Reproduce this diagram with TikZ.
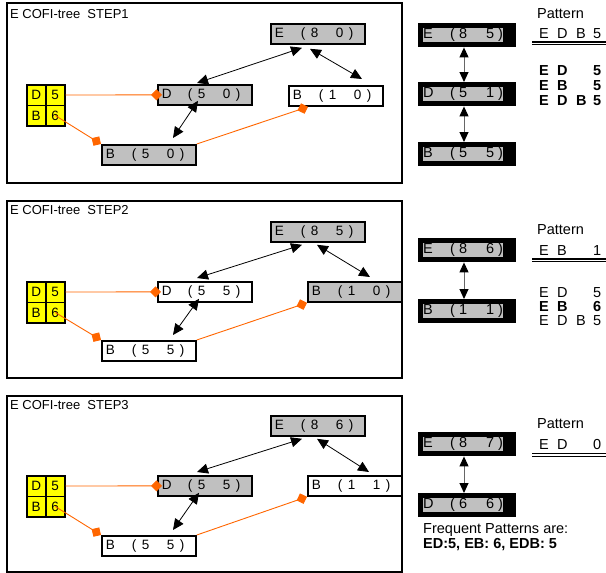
\documentclass[tikz,border=0pt]{standalone}
\usepackage{fontspec}
\setmainfont{Liberation Sans}
\usetikzlibrary{arrows.meta}
\definecolor{boxgray}{RGB}{192,192,192}
\definecolor{cyell}{RGB}{255,255,0}
\definecolor{corange}{RGB}{255,102,0}

\newcommand{\ltxt}[3]{\makebox[94pt][l]{\hspace*{4pt}\makebox[26pt][l]{#1}\makebox[10pt][l]{(}\makebox[25pt][l]{#2}\makebox[13pt][l]{#3})}}
\newcommand{\rtxt}[3]{{\setlength\fboxsep{0pt}\colorbox{boxgray}{\parbox[c][14pt][c]{80pt}{\makebox[27pt][l]{#1}\makebox[9pt][l]{(}\makebox[27pt][l]{#2}\makebox[12pt][l]{#3})}}}\hspace*{8pt}}
\newcommand{\prow}[4]{\makebox[18pt][l]{#1}\makebox[19pt][l]{#2}\makebox[17pt][l]{#3}#4}

\tikzset{
  frame/.style={draw=black, line width=2pt},
  lnode/.style={draw=black, line width=1.8pt, inner sep=0pt, minimum height=20pt, anchor=north west, font=\fontsize{13.5}{15}\selectfont},
  gnode/.style={lnode, fill=boxgray},
  wnode/.style={lnode, fill=white},
  rnode/.style={fill=black, inner xsep=5pt, inner ysep=5pt, anchor=north west, font=\fontsize{14.5}{16}\selectfont},
  cell/.style={draw=black, line width=1.5pt, fill=cyell, minimum width=19pt, minimum height=20.5pt, inner sep=0pt, anchor=north west, font=\fontsize{13.5}{15}\selectfont},
  biarrow/.style={{Triangle[length=11pt,width=10pt]}-{Triangle[length=11pt,width=10pt]}, line width=0.8pt, black},
  rarrow/.style={{Triangle[length=10pt,width=9pt,color=black]}-{Triangle[length=10pt,width=9pt,color=black]}, line width=1pt, draw=black!60},
  olink/.style={draw=corange, line width=0.9pt, -{Diamond[length=11pt,width=11pt,color=corange]}},
  ttl/.style={anchor=base west, font=\fontsize{13}{15}\selectfont, inner sep=0pt},
  ptxt/.style={anchor=base west, font=\fontsize{14.5}{17}\selectfont, inner sep=0pt},
  dline/.style={draw=black, line width=1.3pt},
}

\begin{document}
\begin{tikzpicture}[x=1pt,y=-1pt]
\useasboundingbox[fill=white] (0,0) rectangle (606,573);

%================ PANEL 1 ================
\draw[frame] (7,3) rectangle (402,183);
\node[ttl] (t1) at (10,18) {E COFI-tree\ \ STEP1};
\node[gnode] (E1) at (270,23) {\ltxt{E}{8}{0}};
\node[gnode] (D1) at (157,84) {\ltxt{D}{5}{0}};
\node[wnode] (Br1) at (288,85) {\ltxt{B}{1}{0}};
\node[gnode] (Bl1) at (101,144) {\ltxt{B}{5}{0}};
\node[cell] (c1d) at (26,84) {D};
\node[cell] (c1dv) at (45,84) {5};
\node[cell] (c1b) at (26,104.5) {B};
\node[cell] (c1bv) at (45,104.5) {6};
\draw[biarrow] ([shift={(32,3)}]E1.south west) -- ([shift={(40,-1)}]D1.north west);
\draw[biarrow] ([shift={(40,4)}]E1.south west) -- ([shift={(74,-6)}]Br1.north west);
\draw[biarrow] ([shift={(41,-5)}]D1.south west) -- ([shift={(72,-6)}]Bl1.north west);
\draw[olink] (c1dv.east) -- ([xshift=5pt]D1.west);
\draw[olink] (c1bv.center) -- (Bl1.north west);
\draw[olink] (Bl1.north east) -- ([xshift=20pt]Br1.south west);

\node[rnode] (rE1) at (418,23) {\rtxt{E}{8}{5}};
\node[rnode] (rD1) at (418,82) {\rtxt{D}{5}{1}};
\node[rnode] (rB1) at (418,142) {\rtxt{B}{5}{5}};
\draw[rarrow] ([xshift=46pt]rE1.south west) -- ([xshift=46pt]rD1.north west);
\draw[rarrow] ([xshift=46pt]rD1.south west) -- ([xshift=46pt]rB1.north west);

\node[ptxt] (pa1) at (537,18) {Pattern};
\node[ptxt] (pr1) at (539,38) {\prow{E}{D}{B}{5}};
\draw[dline] (532,42) -- (606,42);
\draw[dline] (532,44.8) -- (606,44.8);
\node[ptxt, font=\fontsize{14.5}{17}\selectfont\bfseries] (pb1a) at (539,75) {\prow{E}{D}{}{5}};
\node[ptxt, font=\fontsize{14.5}{17}\selectfont\bfseries] (pb1b) at (539,90) {\prow{E}{B}{}{5}};
\node[ptxt, font=\fontsize{14.5}{17}\selectfont\bfseries] (pb1c) at (539,105) {\prow{E}{D}{B}{5}};

%================ PANEL 2 ================
\draw[frame] (7,201) rectangle (402,378);
\node[ttl] (t2) at (10,214) {E COFI-tree\ \ STEP2};
\node[gnode] (E2) at (270,221) {\ltxt{E}{8}{5}};
\node[wnode] (D2) at (157,281) {\ltxt{D}{5}{5}};
\node[gnode] (Br2) at (307,281) {\ltxt{B}{1}{0}};
\node[wnode] (Bl2) at (101,340) {\ltxt{B}{5}{5}};
\node[cell] (c2d) at (26,281) {D};
\node[cell] (c2dv) at (45,281) {5};
\node[cell] (c2b) at (26,301.5) {B};
\node[cell] (c2bv) at (45,301.5) {6};
\draw[biarrow] ([shift={(32,2)}]E2.south west) -- ([shift={(40,-3)}]D2.north west);
\draw[biarrow] ([shift={(47,2)}]E2.south west) -- ([shift={(63,-4)}]Br2.north west);
\draw[biarrow] ([shift={(42,-4)}]D2.south west) -- ([shift={(72,-5)}]Bl2.north west);
\draw[olink] (c2dv.east) -- ([xshift=4pt]D2.west);
\draw[olink] (c2bv.center) -- (Bl2.north west);
\draw[olink] (Bl2.north east) -- (Br2.south west);

\node[rnode] (rE2) at (418,238) {\rtxt{E}{8}{6}};
\node[rnode] (rB2) at (418,299) {\rtxt{B}{1}{1}};
\draw[rarrow] ([xshift=46pt]rE2.south west) -- ([xshift=46pt]rB2.north west);

\node[ptxt] (pa2) at (537,234) {Pattern};
\node[ptxt] (pr2) at (539,255) {\prow{E}{B}{}{1}};
\draw[dline] (532,259) -- (606,259);
\draw[dline] (532,261.8) -- (606,261.8);
\node[ptxt] (pb2a) at (539,297) {\prow{E}{D}{}{5}};
\node[ptxt, font=\fontsize{14.5}{17}\selectfont\bfseries] (pb2b) at (539,311) {\prow{E}{B}{}{6}};
\node[ptxt] (pb2c) at (539,325) {\prow{E}{D}{B}{5}};

%================ PANEL 3 ================
\draw[frame] (7,396) rectangle (402,572);
\node[ttl] (t3) at (10,409) {E COFI-tree\ \ STEP3};
\node[gnode] (E3) at (270,415) {\ltxt{E}{8}{6}};
\node[gnode] (D3) at (157,475) {\ltxt{D}{5}{5}};
\node[wnode] (Br3) at (307,475) {\ltxt{B}{1}{1}};
\node[wnode] (Bl3) at (101,535) {\ltxt{B}{5}{5}};
\node[cell] (c3d) at (26,475) {D};
\node[cell] (c3dv) at (45,475) {5};
\node[cell] (c3b) at (26,495.5) {B};
\node[cell] (c3bv) at (45,495.5) {6};
\draw[biarrow] ([shift={(32,2)}]E3.south west) -- ([shift={(40,-3)}]D3.north west);
\draw[biarrow] ([shift={(47,2)}]E3.south west) -- ([shift={(62,-3)}]Br3.north west);
\draw[biarrow] ([shift={(42,-4)}]D3.south west) -- ([shift={(72,-5)}]Bl3.north west);
\draw[olink] (c3dv.east) -- ([xshift=5pt]D3.west);
\draw[olink] (c3bv.center) -- (Bl3.north west);
\draw[olink] (Bl3.north east) -- (Br3.south west);

\node[rnode] (rE3) at (418,432) {\rtxt{E}{8}{7}};
\node[rnode] (rD3) at (418,493) {\rtxt{D}{6}{6}};
\draw[rarrow] ([xshift=46pt]rE3.south west) -- ([xshift=46pt]rD3.north west);

\node[ptxt] (pa3) at (537,428) {Pattern};
\node[ptxt] (pr3) at (539,449) {\prow{E}{D}{}{0}};
\draw[dline] (532,453.5) -- (606,453.5);
\draw[dline] (532,456.3) -- (606,456.3);
\node[ptxt] (fp1) at (423,533) {Frequent Patterns are:};
\node[ptxt, font=\fontsize{14.5}{17}\selectfont\bfseries] (fp2) at (423,548) {ED:5, EB: 6, EDB: 5};
\end{tikzpicture}
\end{document}
